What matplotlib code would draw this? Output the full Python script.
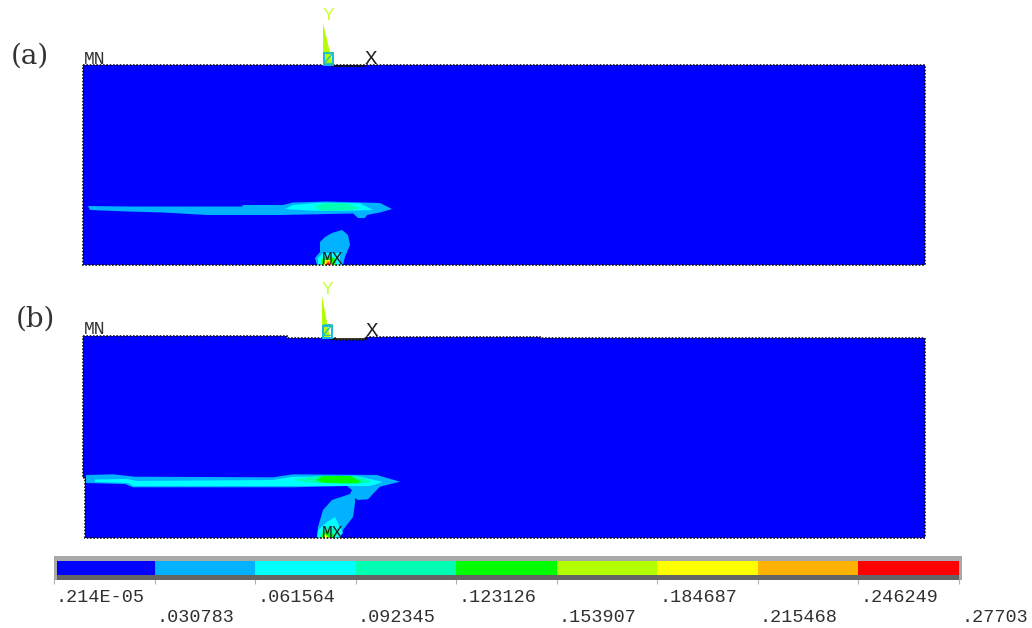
import matplotlib
matplotlib.use("Agg")
import matplotlib.pyplot as plt
from matplotlib.patches import Polygon, Rectangle

# ---------- data: contour levels and colours ----------
LEVELS = [0.00000214, 0.030783, 0.061564, 0.092345, 0.123126,
          0.153907, 0.184687, 0.215468, 0.246249, 0.27703]
LEVEL_LABELS = [".214E-05", ".030783", ".061564", ".092345", ".123126",
                ".153907", ".184687", ".215468", ".246249", ".27703"]
BAND_COLORS = ["#0000ff", "#00b2ff", "#00ffff", "#00ffb2", "#00ff00",
               "#b2ff00", "#ffff00", "#ffb200", "#ff0000"]

# ---------- data: plate outlines and contour regions ----------
PLATE_A = [(83, 65), (925, 65), (925, 265), (83, 265)]
PLATE_B = [(83, 336), (287, 336), (287, 338), (335, 338), (335, 340), (365, 340),
           (365, 337), (540, 337), (540, 338), (925, 338), (925, 538),
           (85, 538), (85, 478), (83, 478)]

A_PLUME_1 = [(88, 206), (127, 206.5), (242, 206.5), (243, 205), (283, 205), (293, 202.5),
             (327, 201.5), (380, 203), (392, 209), (380, 212.5), (367, 215), (365, 218),
             (358, 218), (353, 213.5), (280, 215), (207, 215), (163, 212.5), (127, 211.5),
             (90, 210)]
A_PLUME_2 = [(285, 209), (293, 205), (320, 202.7), (360, 203.3), (373, 210),
             (353, 210.7), (313, 210.7)]
A_PLUME_3 = [(315, 206.7), (323, 203.3), (347, 203.3), (360, 208.3), (347, 210.7), (320, 210.7)]
A_BLOB_1 = [(317, 265), (315, 258), (320, 252), (320, 242), (325, 237), (332, 233), (342, 230),
            (348, 235), (350, 245), (345, 257), (343, 265)]
A_BLOB_2 = [(318, 265), (318, 258), (323, 253), (340, 253), (340, 265)]
A_BLOB_3 = [(321, 265), (322, 259), (328, 256), (336, 259), (335, 265)]
A_BLOB_4 = [(323, 265), (325, 260), (331, 260), (333, 265)]
A_BLOB_5 = [(325, 265), (327, 261), (330, 261), (332, 265)]
A_BLOB_6 = [(326, 265), (328, 262), (331, 265)]

B_REGION_1 = [(86, 475), (113, 474.3), (135, 476.7), (273, 477.3), (293, 474.3), (377, 475),
              (400, 481.7), (380, 486.7), (375, 491.7), (368, 499.3), (358, 500), (355, 498),
              (355, 503), (353, 517), (343, 530), (340, 538), (317, 538), (318, 527),
              (323, 510), (332, 500), (350, 494), (352, 490), (347, 486), (293, 487.3),
              (133, 487.3), (125, 484), (86, 483)]
B_REGION_2 = [(95, 479.5), (127, 479), (137, 481), (273, 480), (293, 476.7), (360, 476.7),
              (383, 482), (370, 486), (293, 486), (133, 486), (128, 483), (95, 482)]
B_REGION_3 = [(293, 480), (317, 476), (357, 476), (372, 482), (357, 484), (313, 483)]
B_REGION_4 = [(316, 480), (323, 476), (350, 476), (362, 482), (353, 483.3), (323, 482.7)]
B_LOWER_2 = [(317, 538), (318, 530), (327, 522), (335, 517), (343, 533), (338, 538)]
B_LOWER_3 = [(320, 538), (322, 530), (330, 526), (337, 533), (336, 538)]
B_LOWER_4 = [(321, 538), (323, 533), (328, 530), (333, 535), (332, 538)]
B_LOWER_5 = [(322, 538), (325, 534), (329, 538)]

# (outline, index of the contour band)
REGIONS = [(A_PLUME_1, 1), (A_PLUME_2, 2), (A_PLUME_3, 3), (A_BLOB_1, 1), (A_BLOB_2, 2),
           (A_BLOB_3, 4), (A_BLOB_4, 6), (A_BLOB_5, 7), (A_BLOB_6, 8),
           (B_REGION_1, 1), (B_REGION_2, 2), (B_REGION_3, 3), (B_REGION_4, 4),
           (B_LOWER_2, 2), (B_LOWER_3, 3), (B_LOWER_4, 4), (B_LOWER_5, 6)]

W, H = 1032, 628
MONO = "Liberation Mono"
fig = plt.figure(figsize=(W / 100, H / 100), dpi=100, facecolor="white")

# colour bar in its own axes, scaled by the contour levels
cax = fig.add_axes([54 / W, 1 - 575 / H, (959 - 54) / W, 14 / H], zorder=1)
cax.barh([0] * len(BAND_COLORS), [LEVELS[i + 1] - LEVELS[i] for i in range(9)],
         left=LEVELS[:-1], color=BAND_COLORS, height=1, align="center", linewidth=0)
cax.set_xlim(LEVELS[0], LEVELS[-1])
cax.set_ylim(-0.5, 0.5)
cax.set_yticks([])
cax.set_xticks(LEVELS)
cax.set_xticklabels([])
cax.tick_params(axis="x", length=6.5, width=0.8, color="#b0b0b0", pad=0)
for s in cax.spines.values():
    s.set_visible(False)
for i, (lev, lab) in enumerate(zip(LEVELS, LEVEL_LABELS)):
    cax.annotate(lab, xy=(lev, 0), xycoords=cax.get_xaxis_transform(),
                 xytext=(2, -23 if i % 2 == 0 else -43), textcoords="offset pixels",
                 ha="left", va="center", family=MONO, fontsize=13.3, color="#303030",
                 annotation_clip=False)

# main drawing in picture coordinates
ax = fig.add_axes([0, 0, 1, 1], zorder=2)
ax.set_xlim(0, W)
ax.set_ylim(H, 0)
ax.axis("off")
ax.patch.set_alpha(0)

ax.add_patch(Rectangle((54, 556), 907, 5, color="#a9a9a9", lw=0))
ax.add_patch(Rectangle((54, 575), 907, 4.5, color="#646464", lw=0))
ax.add_patch(Rectangle((54, 556), 3, 24, color="#a9a9a9", lw=0))
ax.add_patch(Rectangle((959, 556), 2.5, 24, color="#a9a9a9", lw=0))

for outline in (PLATE_A, PLATE_B):
    ax.add_patch(Polygon(outline, closed=True, facecolor=BAND_COLORS[0], edgecolor="none", zorder=1))
for outline, band in REGIONS:
    ax.add_patch(Polygon(outline, closed=True, facecolor=BAND_COLORS[band], edgecolor="none", zorder=2))
for outline in (PLATE_A, PLATE_B):
    ax.add_patch(Polygon(outline, closed=True, fill=False, edgecolor="#111111", lw=1.2,
                         linestyle=(0, (1, 1)), zorder=3))

# triad and node labels
TRIADS = [(323, 23, 65, 333, 16, 60, 58, 371), (322, 296, 338, 330, 289, 332, 331, 372)]
for x0, ytop, ybase, xr, ylab_y, ylab_z, ylab_x, xlab in TRIADS:
    ax.add_patch(Polygon([(x0, ytop), (x0, ybase), (xr, ybase)], closed=True,
                         facecolor="#b2ff00", edgecolor="none", zorder=4))
    ax.plot([xr, xlab - 6], [ybase + 0.5, ybase + 0.5], color="#111111", lw=1.2, zorder=4)
    ax.add_patch(Rectangle((x0 + 0.5, ybase - 12), 9, 12, fill=False, edgecolor="#19b5e8", lw=1.4, zorder=5))
    ax.text(x0 + 5, ylab_y, "Y", color="#ccff44", family=MONO, fontsize=14, ha="center", va="center", zorder=6)
    ax.text(x0 + 5, ylab_z, "Z", color="#30c8a0", family=MONO, fontsize=14, ha="center", va="center", zorder=6)
    ax.text(xlab, ylab_x, "X", color="#202020", family=MONO, fontsize=15, ha="center", va="center", zorder=6)

ax.text(95, 59, "MN", color="#333333", family=MONO, fontsize=13, ha="center", va="center", zorder=6)
ax.text(95, 329, "MN", color="#333333", family=MONO, fontsize=13, ha="center", va="center", zorder=6)
ax.text(333, 259, "MX", color="#222222", family=MONO, fontsize=13, ha="center", va="center", zorder=6)
ax.text(333, 534, "MX", color="#222222", family=MONO, fontsize=13, ha="center", va="center", zorder=6)

ax.text(30, 56, "(a)", color="#333333", family="DejaVu Serif", fontsize=20, ha="center", va="center")
ax.text(35, 319, "(b)", color="#333333", family="DejaVu Serif", fontsize=20, ha="center", va="center")

fig.savefig("out.png", dpi=100, facecolor="white")
